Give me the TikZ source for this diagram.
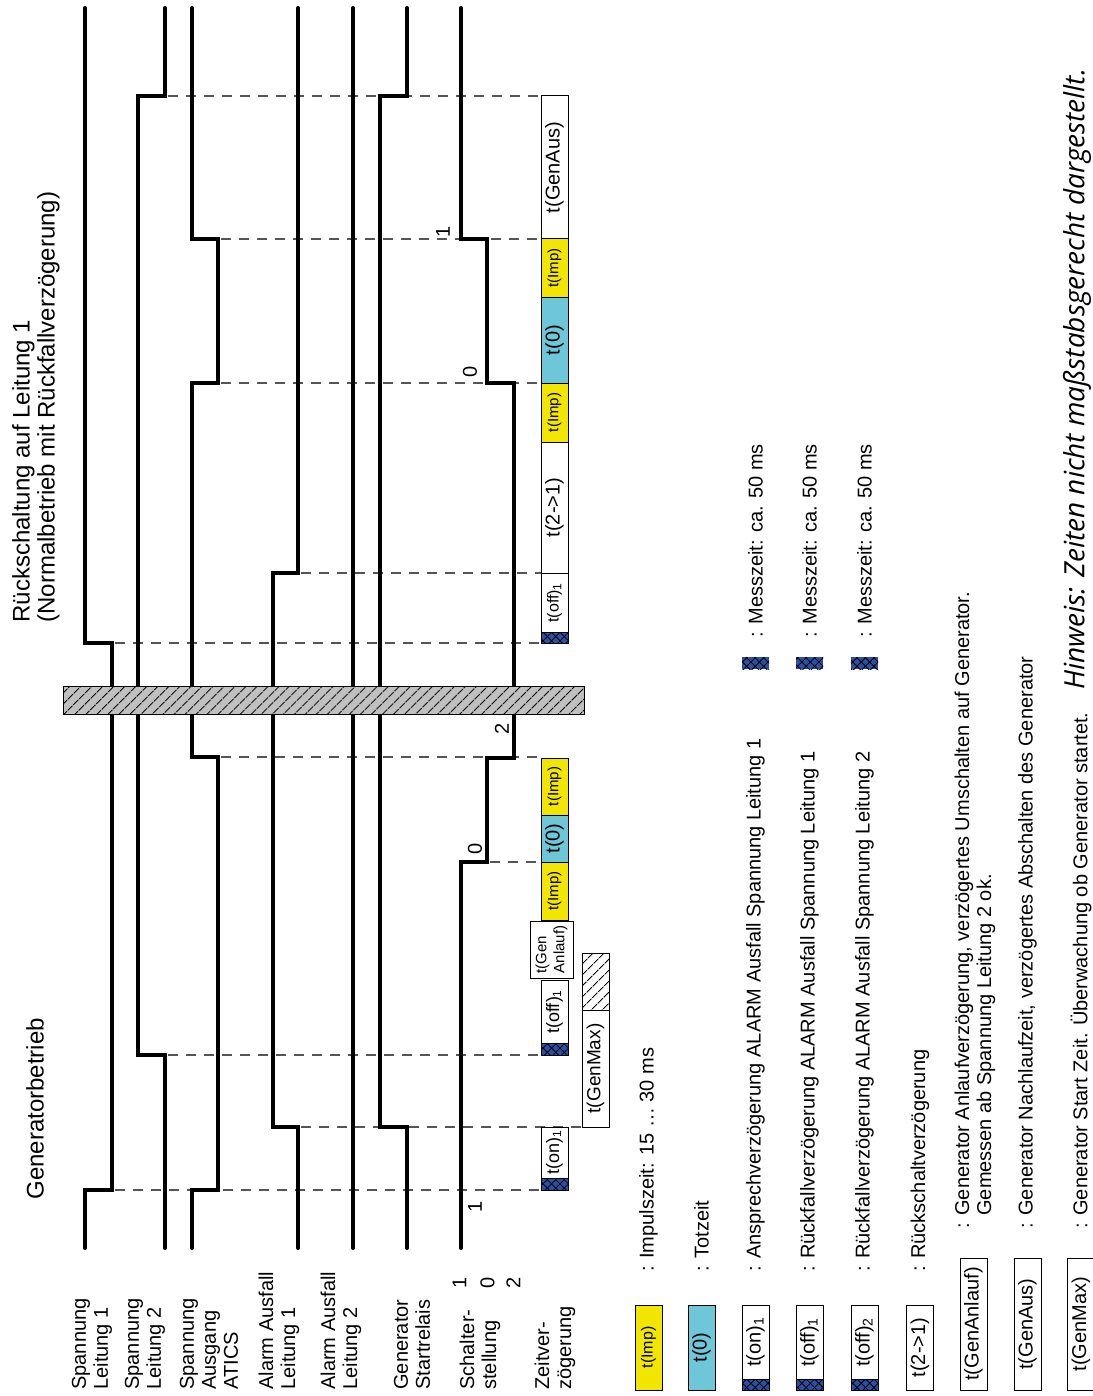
\documentclass[tikz,border=0pt]{standalone}
\usepackage{fontspec}
\setmainfont{Liberation Sans}
\newfontfamily\hinweisfont{Open Sans}
\usepackage{xcolor}
\usepackage{tikz}
\usetikzlibrary{patterns.meta}

\definecolor{impgelb}{HTML}{F2E600}
\definecolor{totcyan}{HTML}{6EC6D9}
\definecolor{messblau}{HTML}{2B4FA3}
\definecolor{taktgrau}{HTML}{555555}
\definecolor{balkengrau}{HTML}{C0C0C0}

\begin{document}
\begin{tikzpicture}[x=0.5pt, y=-0.5pt,
    signal/.style={line width=2pt, line cap=round},
    takt/.style={taktgrau, line width=0.75pt, dash pattern=on 5pt off 4pt},
    zbox/.style={draw, line width=0.5pt, rotate=90, minimum height=13.5pt, inner sep=0pt, font=\fontsize{10}{12}\selectfont},
    imp/.style={zbox, fill=impgelb, font=\fontsize{7.5}{8}\selectfont},
    tot/.style={zbox, fill=totcyan},
    mess/.style={preaction={fill=messblau}, pattern={Lines[angle=45,distance=3pt,line width=0.4pt]}, postaction={pattern={Lines[angle=-45,distance=3pt,line width=0.4pt]}}},
    schraff/.style={pattern={Lines[angle=45,distance=4pt,line width=0.5pt]}},
    zeile/.style={rotate=90, anchor=west, align=left, inner sep=0pt, font=\fontsize{10}{11}\selectfont},
    stufe/.style={rotate=90, inner sep=0pt, font=\fontsize{10}{12}\selectfont},
    titel/.style={rotate=90, anchor=west, align=left, inner sep=0pt, font=\fontsize{12}{12.5}\selectfont}]
    \useasboundingbox (0,0) rectangle (1092,1396);

    % Taktlinien
    \foreach \y/\xa/\xb in {1190/115/541, 1127/301/582, 1055/168/541, 862/490/541, 757/221/541,
                            643/115/541, 573/301/541, 383/221/541, 239/221/541, 96/168/541} {
        \draw[takt] (\xa,\y) -- (\xb,\y);
    }

    % Signalverlaeufe
    \draw[signal] (85,1248) |- (112,1190) |- (85,643) -- (85,8);
    \draw[signal] (165,1248) |- (138,1055) |- (165,96) -- (165,8);
    \draw[signal] (192,1248) |- (218,1190) |- (192,757) |- (218,383) |- (192,239) -- (192,8);
    \draw[signal] (298,1248) |- (273,1127) |- (298,573) -- (298,8);
    \draw[signal] (353,1248) -- (353,8);
    \draw[signal] (407,1248) |- (380,1127) |- (407,96) -- (407,8);
    \draw[signal] (461,1248) |- (487,862) |- (514,758) |- (487,383) |- (461,239) -- (461,8);

    % Schalterstellungen
    \node[stufe] (s1a) at (475,1207) {1};
    \node[stufe] (s0a) at (475,849) {0};
    \node[stufe] (s2a) at (502,729) {2};
    \node[stufe] (s0b) at (470,372) {0};
    \node[stufe] (s1b) at (443,232) {1};

    % Zeitverzoegerung Generatorbetrieb
    \node[zbox, minimum width=25.5pt, font=\fontsize{9}{10}\selectfont] (on1) at (554.5,1152.5) {t(on)\textsubscript{1}};
    \draw[mess, draw, line width=0.5pt] (541,1178) rectangle (568,1190);
    \node[zbox, minimum width=31.5pt, font=\fontsize{9}{10}\selectfont] (off1a) at (554.5,1011.5) {t(off)\textsubscript{1}};
    \draw[mess, draw, line width=0.5pt] (541,1043) rectangle (568,1055);
    \node[zbox, minimum width=28.5pt, minimum height=21.5pt, align=left, font=\fontsize{7.5}{9}\selectfont] (genanl) at (551.5,949.5) {t(Gen\\Anlauf)};
    \node[imp, minimum width=29pt] (impA) at (554.5,891) {t(Imp)};
    \node[tot, minimum width=23.5pt] (totA) at (554.5,838.5) {t(0)};
    \node[imp, minimum width=28.5pt] (impB) at (554.5,786.5) {t(Imp)};
    \node[zbox, minimum width=58.5pt, font=\fontsize{9.5}{11}\selectfont] (genmax) at (595.5,1068.5) {t(GenMax)};
    \node[zbox, schraff, minimum width=28.5pt] (genmaxs) at (595.5,981.5) {};

    % Zeitverzoegerung Rueckschaltung
    \node[zbox, minimum width=29.5pt, font=\fontsize{8}{9}\selectfont] (off1b) at (554.5,602.5) {t(off)\textsubscript{1}};
    \draw[mess, draw, line width=0.5pt] (541,632) rectangle (568,643);
    \node[zbox, minimum width=65.5pt] (rueck) at (554.5,507.5) {t(2->1)};
    \node[imp, minimum width=29.5pt] (impC) at (554.5,412.5) {t(Imp)};
    \node[tot, minimum width=43pt] (totB) at (554.5,340) {t(0)};
    \node[imp, minimum width=29pt] (impD) at (554.5,268) {t(Imp)};
    \node[zbox, minimum width=71.5pt] (genaus) at (554.5,167.5) {t(GenAus)};

    % Unterbrechung
    \draw[schraff, preaction={fill=balkengrau}, draw, line width=0.5pt] (63,686) rectangle (584,714);

    % Beschriftung
    \node[titel] (tgen) at (35,1200) {Generatorbetrieb};
    \node[titel] (trueck) at (36,623) {R\"uckschaltung auf Leitung 1\\(Normalbetrieb mit R\"uckfallverz\"ogerung)};
    \node[zeile] (z1) at (92,1390) {Spannung\\Leitung 1};
    \node[zeile] (z2) at (145,1390) {Spannung\\Leitung 2};
    \node[zeile] (z3) at (209,1390) {Spannung\\Ausgang\\ATICS};
    \node[zeile] (z4) at (279,1390) {Alarm Ausfall\\Leitung 1};
    \node[zeile] (z5) at (341,1390) {Alarm Ausfall\\Leitung 2};
    \node[zeile] (z6) at (412,1390) {Generator\\Startrelais};
    \node[zeile] (z7) at (480,1390) {Schalter-\\stellung};
    \node[zeile] (z8) at (555,1390) {Zeitver-\\z\"ogerung};
    \node[stufe] (p1) at (459.5,1283) {1};
    \node[stufe] (p0) at (487.5,1283) {0};
    \node[stufe] (p2) at (513.5,1283) {2};

    % Legende
    \node[imp, minimum width=42.5pt, font=\fontsize{8}{9}\selectfont] (legimp) at (648.5,1347.5) {t(Imp)};
    \node[tot, minimum width=42.5pt] (legtot) at (701.5,1347.5) {t(0)};
    \node[zbox, minimum width=37pt] (legon) at (755.5,1342) {t(on)\textsubscript{1}};
    \draw[mess, draw, line width=0.5pt] (742,1379) rectangle (769,1390);
    \node[zbox, minimum width=37pt] (legoffa) at (809.5,1342) {t(off)\textsubscript{1}};
    \draw[mess, draw, line width=0.5pt] (796,1379) rectangle (823,1390);
    \node[zbox, minimum width=37pt] (legoffb) at (864.5,1342) {t(off)\textsubscript{2}};
    \draw[mess, draw, line width=0.5pt] (851,1379) rectangle (878,1390);
    \node[zbox, minimum width=42.5pt] (legrueck) at (920,1347.5) {t(2->1)};
    \node[zbox, minimum width=66pt] (leganl) at (973.5,1324) {t(GenAnlauf)};
    \node[zbox, minimum width=66pt] (legaus) at (1027.5,1324) {t(GenAus)};
    \node[zbox, minimum width=66pt] (legmax) at (1081,1324) {t(GenMax)};

    \node[zeile] (timp) at (648.5,1272) {: Impulszeit: 15 … 30 ms};
    \node[zeile] (ttot) at (701.5,1272) {: Totzeit};
    \node[zeile] (ton) at (755.5,1272) {: Ansprechverz\"ogerung ALARM Ausfall Spannung Leitung 1};
    \node[zeile] (toffa) at (809.5,1272) {: R\"uckfallverz\"ogerung ALARM Ausfall Spannung Leitung 1};
    \node[zeile] (toffb) at (864.5,1272) {: R\"uckfallverz\"ogerung ALARM Ausfall Spannung Leitung 2};
    \node[zeile] (trueckl) at (920,1272) {: R\"uckschaltverz\"ogerung};
    \node[zeile] (tanl) at (975,1229) {: Generator Anlaufverz\"ogerung, verz\"ogertes Umschalten auf Generator.\\\hphantom{: }Gemessen ab Spannung Leitung 2 ok.};
    \node[zeile] (taus) at (1027.5,1229) {: Generator Nachlaufzeit, verz\"ogertes Abschalten des Generator};
    \node[zeile] (tmax) at (1081,1229) {: Generator Start Zeit. \"Uberwachung ob Generator startet.};

    % Messzeit
    \foreach \xa/\nm in {742/ma, 796/mb, 851/mc} {
        \fill[mess] (\xa,657) rectangle ++(27,12);
        \node[zeile] (\nm) at (\xa+13.5,638) {: Messzeit: ca. 50 ms};
    }

    % Hinweis
    \node[rotate=90, anchor=west, inner sep=0pt, font=\hinweisfont\itshape\fontsize{14}{14}\selectfont] (hinweis) at (1077,690) {Hinweis: Zeiten nicht ma\ss stabsgerecht dargestellt.};
\end{tikzpicture}
\end{document}
